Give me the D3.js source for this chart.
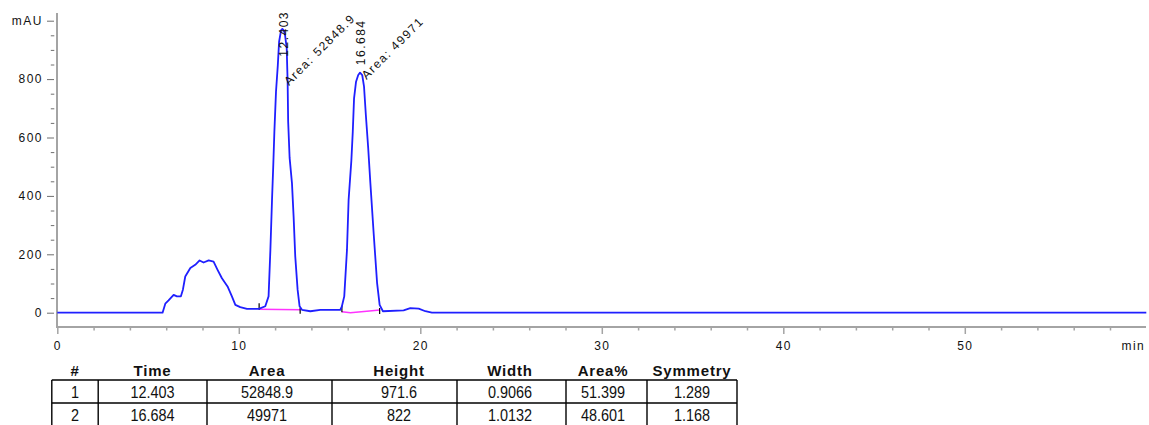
<!DOCTYPE html>
<html><head><meta charset="utf-8">
<script src="https://cdn.jsdelivr.net/npm/d3@7"></script>
<style>
html,body{margin:0;padding:0;background:#fff;}
svg{display:block;background:#fff;}
text{font-family:"Liberation Sans",Arial,Helvetica,sans-serif;fill:#111;}
</style></head><body><svg id="c" width="1149" height="425"></svg>
<script>
// ---- data ----
const traceTime = [0,5.8,5.95,6.13,6.41,6.59,6.81,6.92,7.05,7.33,7.6,7.84,8.06,8.34,8.61,8.83,9.07,9.38,9.62,9.81,10.08,10.45,11.1,11.46,11.64,11.74,11.83,11.9,11.96,12.05,12.15,12.22,12.33,12.4,12.47,12.54,12.64,12.69,12.72,12.8,12.93,13.02,13.11,13.24,13.35,13.48,13.94,14.49,15.59,15.68,15.81,15.96,16.05,16.2,16.28,16.35,16.46,16.58,16.68,16.8,16.9,17.0,17.13,17.25,17.43,17.62,17.76,17.94,19.08,19.45,19.91,20.28,20.64,60];
const traceMAU  = [0,0,31,42,61,56,56,79,124,153,164,179,172,179,175,147,118,90,56,27,19,13,13,22,56,215,386,506,620,757,848,928,968,972,968,955,905,791,654,530,443,329,193,79,22,10,5,10,10,22,56,215,386,520,620,734,791,814,822,814,774,677,563,443,272,101,27,5,8,16,14,5,0,0];

const baseline1Time = [11.12, 13.38];
const baseline1MAU  = [12, 10];
const baseline2Time = [15.68, 16.15, 17.2, 17.76];
const baseline2MAU  = [3, 0, 6, 9];

const peakTime   = [12.403, 16.684];
const peakApex   = [972, 822];
const peakRTLabel   = ["12.403", "16.684"];
const peakAreaLabel = ["Area: 52848.9", "Area: 49971"];

const xMajorTicks = [0,10,20,30,40,50];
const yMajorTicks = [0,200,400,600,800,1000];

const tableHeaders = ["#","Time","Area","Height","Width","Area%","Symmetry"];
const colNum     = ["1","2"];
const colTime    = ["12.403","16.684"];
const colArea    = ["52848.9","49971"];
const colHeight  = ["971.6","822"];
const colWidth   = ["0.9066","1.0132"];
const colAreaPct = ["51.399","48.601"];
const colSym     = ["1.289","1.168"];

// ---- drawing ----
const svg = d3.select("#c");
const x = d3.scaleLinear().domain([0,60]).range([57.3, 1146.3]);
const y = d3.scaleLinear().domain([0,1000]).range([312.7, 20.7]);
const axisX = 57, axisY = 327;
const axisGray = "#a4a4a4", tickGray = "#6e6e6e";
const lbl = g => g.selectAll("text").style("font-size","12px").style("letter-spacing","1.5px").style("fill","#111");

// axis lines
svg.append("line").attr("x1",axisX).attr("x2",axisX).attr("y1",13).attr("y2",axisY+1)
  .attr("stroke",axisGray).attr("stroke-width",2);
svg.append("line").attr("x1",axisX).attr("x2",1146).attr("y1",axisY).attr("y2",axisY)
  .attr("stroke",axisGray).attr("stroke-width",2);

// y axis
const gy = svg.append("g").attr("transform",`translate(${axisX-3},0)`)
  .call(d3.axisLeft(y).tickValues(yMajorTicks).tickSize(7).tickPadding(4)
        .tickFormat(d => d===1000 ? "mAU" : d));
gy.select(".domain").remove();
gy.selectAll("line").attr("stroke",tickGray);
lbl(gy);
const yMinor = d3.range(0,1001,50).filter(v => v%200!==0);
const gym = svg.append("g").attr("transform",`translate(${axisX-2.7},0)`)
  .call(d3.axisLeft(y).tickValues(yMinor).tickSize(3.5).tickFormat(""));
gym.select(".domain").remove();
gym.selectAll("line").attr("stroke",tickGray);

// x axis
const gx = svg.append("g").attr("transform",`translate(0,${axisY})`)
  .call(d3.axisBottom(x).tickValues(xMajorTicks).tickSize(7).tickPadding(7).tickFormat(d3.format("d")));
gx.select(".domain").remove();
gx.selectAll("line").attr("stroke",axisGray).attr("stroke-width",1.5);
lbl(gx);
const xMinor = d3.range(2,60,2).filter(v => v%10!==0);
const gxm = svg.append("g").attr("transform",`translate(0,${axisY})`)
  .call(d3.axisBottom(x).tickValues(xMinor).tickSize(3.5).tickFormat(""));
gxm.select(".domain").remove();
gxm.selectAll("line").attr("stroke",axisGray).attr("stroke-width",1.5);
svg.append("text").attr("x",x(60)-1).attr("y",349.5).attr("text-anchor","end")
  .style("font-size","12px").style("letter-spacing","1.5px").text("min");

// baselines (pink)
const lineGen = (ts, vs) => d3.line().x(i => x(ts[i])).y(i => y(vs[i]))(d3.range(ts.length));
[[baseline1Time,baseline1MAU],[baseline2Time,baseline2MAU]].forEach(([t,v]) => {
  svg.append("path").attr("d", lineGen(t,v)).attr("fill","none")
    .attr("stroke","#ff33ff").attr("stroke-width",1.6);
  const s = [x(t[0]), y(v[0])], e = [x(t[t.length-1]), y(v[v.length-1])];
  svg.append("line").attr("x1",s[0]).attr("x2",s[0]).attr("y1",s[1]-6).attr("y2",s[1]+0.5)
    .attr("stroke","#000").attr("stroke-width",1.2);
  svg.append("line").attr("x1",e[0]).attr("x2",e[0]).attr("y1",e[1]-2).attr("y2",e[1]+4)
    .attr("stroke","#000").attr("stroke-width",1.2);
});

// signal trace
svg.append("path").attr("d", lineGen(traceTime, traceMAU)).attr("fill","none")
  .attr("stroke","#1f1fff").attr("stroke-width",1.8).attr("stroke-linejoin","round");

// peak annotations
peakTime.forEach((t,i) => {
  const px = x(t), py = y(peakApex[i]);
  const rt = svg.append("text").style("font-size","12px").style("letter-spacing","1.5px")
    .attr("dy","0.35em").text(peakRTLabel[i]);
  const len = rt.node().getComputedTextLength();
  const bottom = Math.max(py - 7.5, 11 + len);
  rt.attr("transform",`translate(${px+1},${bottom}) rotate(-90)`);
  const ar = svg.append("text").style("font-size","12px").style("letter-spacing","1.5px")
    .text(peakAreaLabel[i]);
  const alen = ar.node().getComputedTextLength();
  const sy = Math.max(py + 7.3, 19 + alen*Math.SQRT1_2);
  ar.attr("transform",`translate(${px+6.5},${sy}) rotate(-45)`);
});

// results table
const colEdges = [51.8, 98.2, 207, 332, 457, 566, 647, 737];
const textCenters = [75, 152.5, 267, 399, 510, 603, 692];
const rowEdges = [380, 403];
const tbl = svg.append("g");
tbl.selectAll("line.v").data(colEdges).join("line").attr("class","v")
  .attr("x1",d=>d).attr("x2",d=>d).attr("y1",rowEdges[0]).attr("y2",426)
  .attr("stroke","#000").attr("stroke-width",1.4);
tbl.selectAll("line.h").data(rowEdges).join("line").attr("class","h")
  .attr("x1",colEdges[0]).attr("x2",colEdges[colEdges.length-1]).attr("y1",d=>d).attr("y2",d=>d)
  .attr("stroke","#000").attr("stroke-width",1.4);
tbl.selectAll("text.hd").data(tableHeaders).join("text").attr("class","hd")
  .attr("x",(d,i)=>textCenters[i]).attr("y",375.7).attr("text-anchor","middle")
  .style("font-size","15px").style("font-weight","bold").style("letter-spacing","0.8px").text(d=>d);
const columns = [colNum,colTime,colArea,colHeight,colWidth,colAreaPct,colSym];
const rowBase = [398, 421];
columns.forEach((col,ci) => {
  col.forEach((v,ri) => {
    tbl.append("g").attr("transform",`translate(${textCenters[ci]},${rowBase[ri]}) scale(0.85,1)`)
      .append("text").attr("text-anchor","middle").style("font-size","17px").text(v);
  });
});
</script></body></html>
